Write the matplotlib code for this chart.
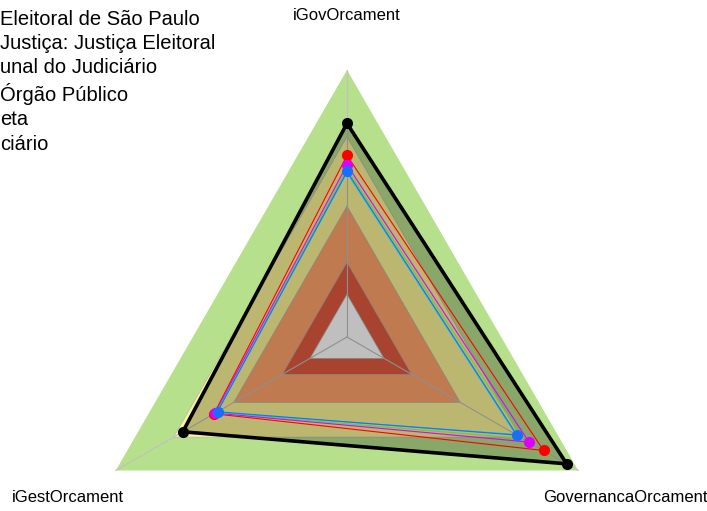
import numpy as np
import matplotlib.pyplot as plt
from matplotlib.lines import Line2D

plt.rcParams['font.family'] = ['Liberation Sans', 'DejaVu Sans']

# axes of the radar, clockwise from the top
axes_names = ['iGovOrcament', 'GovernancaOrcament', 'iGestOrcament']
angles = np.deg2rad([90, -30, 210])

# background bands (outer radius, colour)
band_r = [1.0, 0.75, 0.49, 0.28, 0.16]
band_colors = ['#b7e08c', '#fcf596', '#ffa36c', '#e05a40', '#ffffff']

# series values, normalised 0-1 on each axis
labels = ['Eleitoral de São Paulo', 'Justiça: Justiça Eleitoral',
          'unal do Judiciário', 'Órgão Público', 'eta', 'ciário']
black_vals = [0.80, 0.95, 0.71]
red_vals = [0.68, 0.85, 0.575]
magenta_vals = [0.645, 0.787, 0.57]
blue_vals = [0.62, 0.735, 0.56]
cyan_vals = [0.615, 0.73, 0.565]
green_vals = [0.63, 0.76, 0.568]


def xy(vals):
    v = np.asarray(vals)
    x = v * np.cos(angles)
    y = v * np.sin(angles)
    return np.append(x, x[0]), np.append(y, y[0])


fig = plt.figure(figsize=(7.07, 5.11), dpi=100)
ax = fig.add_axes([0, 0, 1, 1])
ax.set_xlim(-347 / 267, 360 / 267)
ax.set_ylim(-174 / 267, 337 / 267)
ax.axis('off')

for i, (r, c) in enumerate(zip(band_r, band_colors)):
    x, y = xy([r, r, r])
    ax.fill(x, y, color=c, lw=0, zorder=1)
    if i > 0:
        ax.plot(x, y, color='#b4b4b4', lw=0.5, zorder=2)
for a in angles:
    ax.plot([0, np.cos(a)], [0, np.sin(a)], color='#c0c0c0', lw=0.8, zorder=2)

# filled main series
x, y = xy(black_vals)
ax.fill(x, y, color='black', alpha=0.25, lw=0, zorder=3)

series = [(black_vals, 'black', 2.6, 7),
          (red_vals, '#ff0000', 0.8, 7),
          (green_vals, '#66cc33', 0.8, 0),
          (magenta_vals, '#dd00ff', 0.8, 7),
          (cyan_vals, '#00ccdd', 0.8, 0),
          (blue_vals, '#1a6eff', 0.8, 7)]
handles = []
for (vals, col, lw, ms), lab in zip(series, labels):
    x, y = xy(vals)
    ax.plot(x, y, color=col, lw=lw, zorder=4)
    ax.plot(x[:-1], y[:-1], 'o', color=col, ms=ms, zorder=5)
    handles.append(Line2D([], [], color=col, lw=lw, marker='o', ms=ms))

for name, a in zip(axes_names, angles):
    ax.text(1.205 * np.cos(a), 1.205 * np.sin(a), name, ha='center',
            va='center', fontsize=12)

fig.legend(handles, labels, loc='upper left', bbox_to_anchor=(-0.097, 1.005),
           frameon=False, fontsize=14.5, borderaxespad=0.2, labelspacing=0.27)

fig.savefig('out.png', dpi=100)
